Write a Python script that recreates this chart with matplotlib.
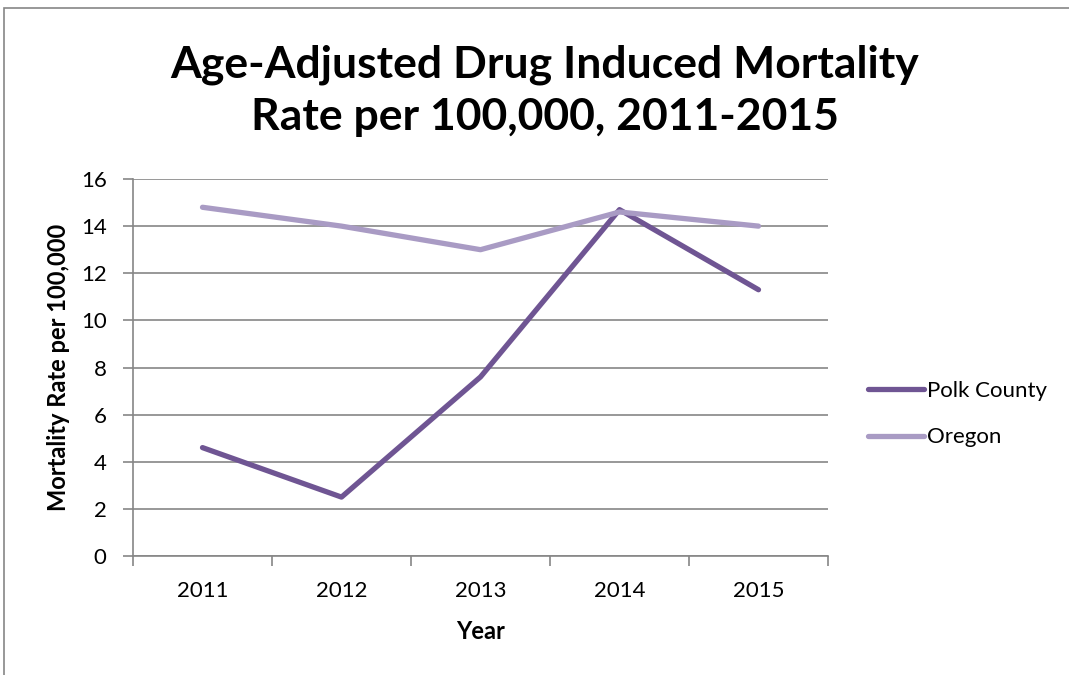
import matplotlib
matplotlib.use("Agg")
import matplotlib.pyplot as plt
from matplotlib.patches import Rectangle
from matplotlib.lines import Line2D

years = ["2011", "2012", "2013", "2014", "2015"]
polk = [4.6, 2.5, 7.6, 14.7, 11.3]
oregon = [14.8, 14.0, 13.0, 14.6, 14.0]
yticks = [0, 2, 4, 6, 8, 10, 12, 14, 16]

plt.rcParams['font.family'] = ['Lato', 'DejaVu Sans']

W, H = 1069, 675
fig = plt.figure(figsize=(W / 100, H / 100), dpi=100)
fig.patches.append(Rectangle((4 / W, -0.1), 1.2, 1 - 8 / H + 0.1, transform=fig.transFigure,
                             fill=False, edgecolor='#868686', linewidth=1.2))

ax = fig.add_axes([133 / W, 1 - 556 / H, (828 - 133) / W, (556 - 179) / H])
x = list(range(len(years)))
c_polk = '#6F5593'
c_or = '#A99BC4'
ax.plot(x, polk, color=c_polk, lw=3.8, solid_capstyle='round', solid_joinstyle='round', label='Polk County', zorder=3)
ax.plot(x, oregon, color=c_or, lw=3.8, solid_capstyle='round', solid_joinstyle='round', label='Oregon', zorder=3)

ax.set_xlim(-0.5, len(years) - 0.5)
ax.set_ylim(0, 16)
ax.set_yticks(yticks)
ax.set_yticklabels([str(v) for v in yticks], fontsize=16)
ax.set_xticks([i - 0.5 for i in range(len(years) + 1)])
ax.set_xticklabels([])
ax.set_xticks(x, minor=True)
ax.set_xticklabels(years, minor=True, fontsize=16)
ax.tick_params(axis='x', which='minor', length=0, pad=18)
ax.tick_params(axis='x', which='major', length=7, color='#868686', width=1.2, direction='out')
ax.tick_params(axis='y', length=7, color='#868686', width=1.2, pad=12)

ax.grid(axis='y', color='#868686', linewidth=1.2, zorder=0)
ax.set_axisbelow(True)
for s in ['top', 'right']:
    ax.spines[s].set_visible(False)
for s in ['left', 'bottom']:
    ax.spines[s].set_color('#868686')
    ax.spines[s].set_linewidth(1.2)

ax.set_xlabel('Year', fontsize=17, fontweight='bold', labelpad=14)
ax.set_ylabel('Mortality Rate per 100,000', fontsize=17, fontweight='bold', labelpad=8)

fig.text(545 / W, 1 - 91 / H, 'Age-Adjusted Drug Induced Mortality\nRate per 100,000, 2011-2015',
         ha='center', va='center', fontsize=32, fontweight='bold', linespacing=1.35)

handles = [Line2D([0], [0], color=c_polk, lw=3.8, solid_capstyle='round'),
           Line2D([0], [0], color=c_or, lw=3.8, solid_capstyle='round')]
fig.legend(handles, ['Polk County', 'Oregon'], loc='center left',
           bbox_to_anchor=(868 / W, 1 - 414 / H), frameon=False, fontsize=16,
           handlelength=2.5, handletextpad=0.15, labelspacing=1.2, borderpad=0,
           borderaxespad=0)

fig.savefig('out.png', dpi=100)
